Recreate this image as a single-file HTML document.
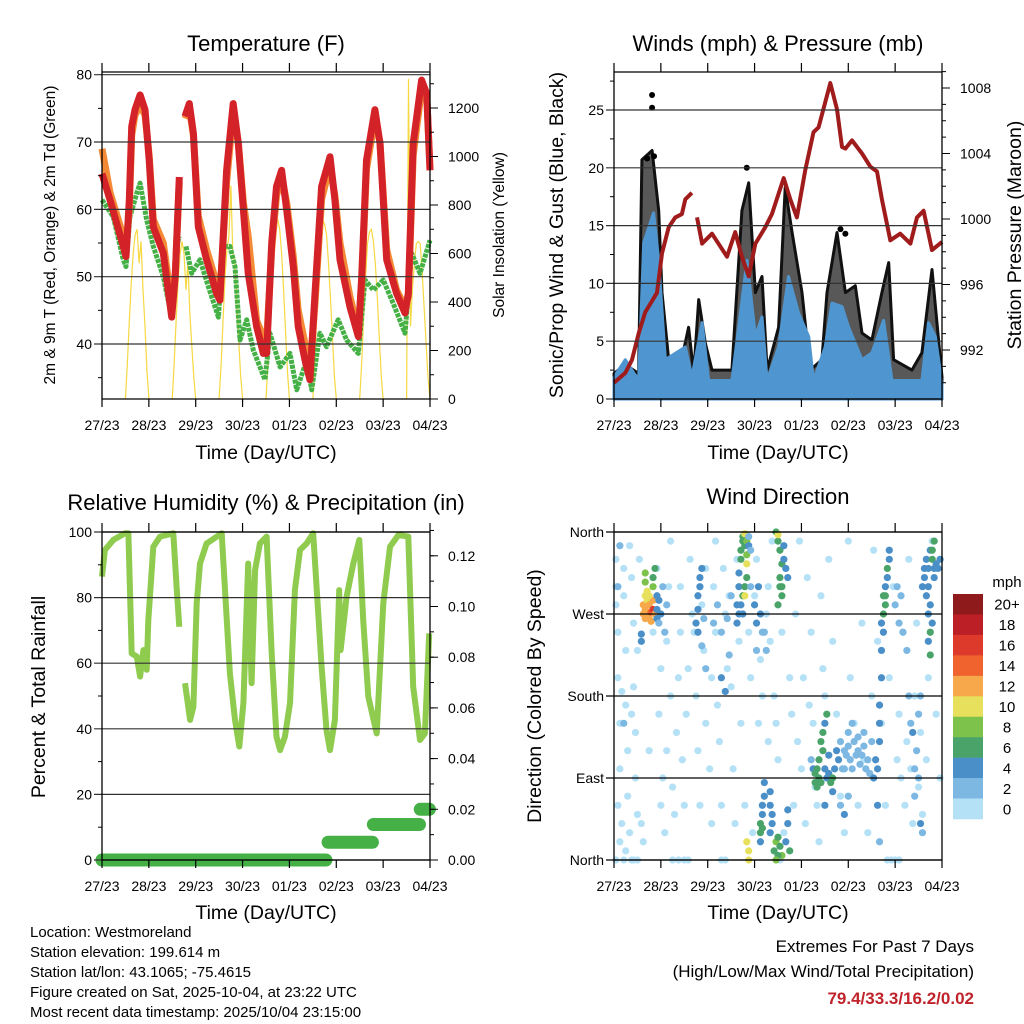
<!DOCTYPE html>
<html><head><meta charset="utf-8"><title>Station Meteogram</title>
<style>
html,body{margin:0;padding:0;background:#fff;}
svg{display:block;font-family:"Liberation Sans",Arial,sans-serif;}
</style></head>
<body>
<svg id="fig" width="1024" height="1024" viewBox="0 0 1024 1024" xmlns="http://www.w3.org/2000/svg">
<rect x="0" y="0" width="1024" height="1024" fill="#fff"/>
<text x="266" y="51" font-size="22" text-anchor="middle">Temperature (F)</text>
<text x="778" y="51" font-size="22" text-anchor="middle">Winds (mph) &amp; Pressure (mb)</text>
<text x="266" y="510" font-size="22" text-anchor="middle">Relative Humidity (%) &amp; Precipitation (in)</text>
<text x="778" y="504" font-size="22" text-anchor="middle">Wind Direction</text>
<text transform="translate(55,235) rotate(-90)" font-size="15.5" text-anchor="middle">2m &amp; 9m T (Red, Orange) &amp; 2m Td (Green)</text>
<text transform="translate(504,235) rotate(-90)" font-size="15.5" text-anchor="middle">Solar Insolation (Yellow)</text>
<text transform="translate(563,235) rotate(-90)" font-size="19.5" text-anchor="middle">Sonic/Prop Wind &amp; Gust (Blue, Black)</text>
<text transform="translate(1021,235) rotate(-90)" font-size="19.5" text-anchor="middle">Station Pressure (Maroon)</text>
<text transform="translate(45,697) rotate(-90)" font-size="19.5" text-anchor="middle">Percent &amp; Total Rainfall</text>
<text transform="translate(541,696) rotate(-90)" font-size="19.5" text-anchor="middle">Direction (Colored By Speed)</text>
<text x="266" y="459" font-size="19.5" text-anchor="middle">Time (Day/UTC)</text>
<text x="778" y="459" font-size="19.5" text-anchor="middle">Time (Day/UTC)</text>
<text x="266" y="919" font-size="19.5" text-anchor="middle">Time (Day/UTC)</text>
<text x="778" y="919" font-size="19.5" text-anchor="middle">Time (Day/UTC)</text>
<g font-size="15">
<text x="30" y="937">Location: Westmoreland</text>
<text x="30" y="957">Station elevation: 199.614 m</text>
<text x="30" y="977">Station lat/lon: 43.1065; -75.4615</text>
<text x="30" y="997">Figure created on Sat, 2025-10-04, at 23:22 UTC</text>
<text x="30" y="1017">Most recent data timestamp: 2025/10/04 23:15:00</text>
</g>
<text x="974" y="952" font-size="17" text-anchor="end">Extremes For Past 7 Days</text>
<text x="974" y="977" font-size="17" text-anchor="end">(High/Low/Max Wind/Total Precipitation)</text>
<text x="974" y="1004" font-size="17" font-weight="bold" fill="#c0232b" text-anchor="end">79.4/33.3/16.2/0.02</text>
<text x="1007" y="587" font-size="15" text-anchor="middle">mph</text>
</svg>
<script>
const dayLabels = ['27/23','28/23','29/23','30/23','01/23','02/23','03/23','04/23'];
const tempTicks = [40,50,60,70,80];
const solarTicks = [0,200,400,600,800,1000,1200];
const windTicks = [0,5,10,15,20,25];
const presTicks = [992,996,1000,1004,1008];
const rhTicks = [0,20,40,60,80,100];
const rainTicks = [0,0.02,0.04,0.06,0.08,0.10,0.12];
const rainTickLabels = ['0.00','0.02','0.04','0.06','0.08','0.10','0.12'];
const dirTicks = [0,90,180,270,360];
const dirLabels = ['North','East','South','West','North'];

const tempHours = [0,4.1,10.9,12.3,14,15.2,16.9,19.5,22,24.2,26.3,31.4,35.7,37.5,39.6,null,42.5,44.7,46.8,49.3,53.6,58.7,60.4,63.8,67.2,69.8,72.4,74.9,79.2,82.6,84.3,86.9,89.4,92,94.6,98,100.5,104,106.5,109.1,112.5,116.8,119.3,121.9,127,131.3,133,135.5,139.8,142.4,145.8,150.9,155.2,156.9,159.4,163.7,166.3,168];
const temp2m = [65.3,61.4,54.5,53,61.4,72.3,74.8,77,74.8,67.3,57.4,53.5,44,50,64.8,null,73.8,75.7,71.3,57.4,52.5,47.5,46.5,65.8,75.7,69.8,59.9,50.5,42.6,38.6,38.6,55,63.4,65.8,59.9,51.5,42.6,37.6,34.7,47.5,63.4,67.8,61.4,52.5,45.5,41.1,50,67.3,74.8,69.8,52.5,47.5,44.6,47.5,69.8,79.2,77.2,65.8];
const temp9m = [69,62.5,56,54,60,71,74,75.5,74,68,58.5,55,46,50,64,null,73.5,75,71,59,54,49,47,64,74.5,70,61,56,43.5,41,40.5,54,62,65,61,53,45,40,36,46,61.5,66.5,62,55,47,42,49,66,73.5,70,54,48,45.5,47,68,78,77,66];
const dewHours = [0,5.8,10.9,12.3,14.3,17.8,19.5,22.9,26.3,31.4,35.7,38.2,39.6,null,43,45.9,50.2,54.5,59.6,62.1,65.5,68.1,70.7,74.1,77.5,83.5,86,91.2,96.3,99.7,104.8,107.4,111.6,115,121,125.3,131.3,134.7,139,144.1,149.2,155.2,158.6,162.9,168];
const dew2m = [61.4,58.9,52.5,51.5,58.9,62.4,63.9,58.4,54.5,50,44,54.5,56,null,54.5,50.5,52.5,48.5,44,54.5,54.5,51.5,40.6,43.6,39.1,34.7,41.6,36.6,38.6,33.2,37.6,33.2,41.6,39.6,43.6,40.6,38.6,49.5,48,49.5,46,41.6,53.5,50.5,55.4];
const solarDayStart = [0,24,48,72,96,120,144];
const solarHourOfDay = [12,13,14,15,16,17,18,19,20,21,22,23,24];
const solarDay0 = [0,150,320,480,600,680,700,560,650,450,300,120,0];
const solarDay1 = [0,150,330,480,600,650,600,450,560,350,220,90,0];
const solarDay2 = [0,140,320,500,620,670,880,600,560,400,240,100,0];
const solarDay3 = [0,150,330,500,640,720,740,700,600,450,280,110,0];
const solarDay4 = [0,160,350,520,800,740,720,680,560,420,260,100,0];
const solarDay5 = [0,150,330,500,640,690,700,650,560,420,260,100,0];
const solarDay6 = [0,1320,300,450,560,640,650,640,520,380,230,90,0];

const gustHours = [0,5.8,12.6,14.3,19.5,22.9,24.6,28,33.1,38.2,40.8,43.4,46.8,50.2,60.4,65.5,69,72.4,75.8,78.4,84.3,87.7,91.2,96.3,100.5,106.5,109.1,114.2,118.5,123.6,127,132.1,137.2,140.7,143.2,152.6,157.7,162.9,168];
const gustSpeed = [2.2,3,2.2,20.7,21.5,16.3,9.2,3.4,2.2,6.2,2.2,8.6,4.8,2.5,2.5,16.3,18.7,9.2,10.6,2.5,6.2,18.3,14.4,9.2,2.5,3.4,9.2,14.4,9.2,9.8,5.7,5.1,9.2,11.8,3.4,2.5,4,11.2,1.9];
const gustPeakHours = [19.5,19.5,68,116,118.5,20.5,17];
const gustPeakSpeed = [26.3,25.2,20,14.7,14.3,21,20.8];
const windHours = [0,5.8,12.6,15.2,20.3,22.9,26.3,36.5,39.9,45.1,48.5,60.4,63.8,68.1,72.4,75.8,78.4,84.3,89.4,94.6,99.7,102.2,108.2,111.6,116.8,120.2,127,132.1,138.1,142.4,157.7,161.1,164.6,168];
const windSpeed = [1.9,3.4,1.6,13.5,16.1,12,3.4,4.5,1.9,6.6,1.6,1.6,6.2,12,5.4,7.1,1.6,4.5,10.6,7.4,5.4,1.6,4.5,8.3,8,6.2,3.4,4,6.8,1.6,1.6,6.6,5.4,1.3];
const presHours = [0,5.8,9.2,12.6,16,19.5,22,24.6,28,31.4,34.8,36.5,39.9,null,42.5,45.1,50.2,57.9,62.1,65.5,69,72.4,77.5,80.9,86.9,90.3,93.7,98,102.2,104.8,110.8,114.2,116.8,118.5,121.9,127,131.3,134.7,137.2,141.5,146.6,151.8,155.2,158.6,162.9,168];
const presMb = [990,990.6,991.4,993,994.3,995,995.5,997.9,999.5,1000.1,1000.3,1001.2,1001.6,null,1000.1,998.5,999.1,997.7,999.2,997.7,996.5,998.5,999.5,1000.3,1002.5,1001.2,1000.1,1003,1005.3,1005.6,1008.3,1006.7,1004.4,1004.3,1004.8,1004,1003.2,1002.9,1001.2,998.7,999.1,998.5,1000.1,1000.5,998.1,998.6];

const rhHours = [0,1.5,5.8,11.8,13.5,15.2,17.8,19.5,21.2,22.9,23.7,26.3,29.7,36.5,38.2,39.6,null,42.5,45.1,46.8,48.5,50.2,53.6,61.3,65.5,68.1,70.3,72.4,74.9,76.6,78.4,80.9,84.3,86.9,89.4,91.2,93.7,96.3,98.8,101.4,104.8,108.2,112.5,115,116.8,119.3,121.5,122.2,125.3,128.7,131.8,133.8,136.4,140.7,144.1,147.5,151.8,156.9,159.4,162.9,165.4,167.6];
const rhPct = [86.4,94.5,97.6,99.6,99.6,63,62,55.9,64,58,73,95.5,98.6,99.6,83.3,71.1,null,53.9,42.7,46.7,78.3,90.4,96.5,99.6,56.9,42.7,34.6,47.8,90.4,53.9,88.4,96.5,98.6,63,37.6,33.5,37.6,47.8,82.3,94.5,96.5,99.6,58.9,39.6,33.5,42.7,82.3,64,80.3,90.4,97.6,73.2,49.8,38.6,78.3,95.5,99.1,98.6,52.8,36.6,38.6,69.1];
const rainStartHours = [0,115.8,139,163];
const rainEndHours = [114.7,138.5,162.6,167.7];
const rainTotal = [0,0.007,0.014,0.02];

const speedBinLabels = ['0','2','4','6','8','10','12','14','16','18','20+'];
const speedBinColors = ['#b5e1f7','#7db8e3','#4a8fc8','#4aa46a','#7dc24b','#e7e05c','#f6a84a','#f0622e','#dd3a2c','#bd1f26','#8f1a1b'];
const windObs = [
[1,330,1],[1,300,1],[1,280,1],[2,250,1],[2,200,1],[3,150,1],[3,100,1],[2,60,1],[4,40,1],[5,320,1],[5,290,1],[6,230,1],[6,170,1],[7,120,1],[7,70,1],[8,30,1],[8,345,1],[9,310,1],[10,260,1],[10,190,1],[11,140,1],[11,90,1],[12,50,1],[12,230,1],[13,330,1],[4,185,1],[9,160,1],[3,20,1],[6,10,1],[10,0,1],[1,0,1],[5,0,1],[9,0,1],[12,0,1],[2,300,3],[3,345,3],[5,150,3],
[14,40,1],[15,20,1],[18,120,1],[20,250,1],[22,320,1],[24,210,1],[23,160,1],[25,90,1],[24,60,1],[26,30,1],[27,120,1],[27,240,1],[28,300,1],[29,350,1],[29,180,1],[30,80,1],[31,50,1],[30,0,1],[33,0,1],[32,140,1],[33,200,1],[34,300,1],[34,250,1],[35,110,1],[36,60,1],[37,160,1],[38,210,1],[39,330,1],[40,270,1],[36,0,1],[38,0,1],[41,250,1],[42,180,1],[43,120,1],[44,60,1],[45,280,1],[46,230,1],[47,320,1],[47,150,1],[49,100,1],[50,200,1],[50,40,1],[51,300,1],[52,350,1],[52,250,1],[53,170,1],[54,130,1],[55,60,1],[55,0,1],[57,0,1],[56,320,1],[57,270,1],[58,210,1],[59,290,1],[60,190,1],[61,100,1],[62,40,1],[63,330,1],[64,240,1],[65,150,1],[67,60,1],[69,250,1],[70,200,1],[71,30,1],[72,290,1],[73,330,1],[74,150,1],[75,220,1],[76,180,1],[78,270,1],[79,130,1],[79,300,1],[80,240,1],[81,350,1],[82,180,1],[83,150,1],[84,110,1],[85,0,1],[86,250,1],[87,30,1],[88,320,1],[90,200,1],[91,160,1],[92,60,1],[93,270,1],[94,130,1],[95,350,1],[96,100,1],[97,200,1],[98,40,1],[99,310,1],[100,170,1],[101,250,1],[102,150,1],[103,80,1],[104,60,1],[105,20,1],[106,290,1],[107,210,1],[108,180,1],[110,330,1],[112,240,1],[114,160,1],[116,70,1],[118,30,1],[120,350,1],[121,200,1],[123,150,1],[125,60,1],[127,260,1],[128,110,1],[130,30,1],[132,180,1],[133,340,1],[135,240,1],[137,150,1],[139,60,1],[140,0,1],[142,0,1],[144,0,1],[146,0,1],[141,200,1],[143,300,1],[145,110,1],[146,160,1],[147,90,1],[148,250,1],[149,60,1],[150,130,1],[151,330,1],[152,100,1],[153,40,1],[154,180,1],[155,260,1],[156,80,1],[157,140,1],[158,50,1],[160,110,1],[161,200,1],[163,350,1],[165,160,1],[167,90,1],
[15,270,12],[15,280,12],[16,265,12],[16,275,13],[17,270,12],[17,285,11],[18,265,12],[18,280,12],[19,272,15],[19,262,13],[20,275,16],[20,285,12],[21,270,13],[16,290,10],[17,295,10],[18,290,10],[16,305,8],[16,315,8],[20,300,8],[20,310,7],[21,320,7],[14,240,5],[14,248,5],[22,265,5],[22,275,5],[23,260,3],[23,285,4],[24,270,4],[22,290,4],[25,300,3],[26,250,3],[27,280,3],
[42,260,5],[43,275,5],[43,290,5],[44,300,5],[44,310,4],[45,320,4],[43,250,4],[46,265,3],[45,235,3],[47,210,3],[51,260,3],[53,280,3],[55,250,3],[58,265,3],[60,290,3],[59,225,3],[55,200,4],[57,185,4],
[63,260,5],[63,280,5],[64,300,5],[64,315,5],[65,330,6],[65,340,6],[66,350,7],[66,355,7],[67,345,7],[67,358,10],[68,350,8],[68,335,9],[68,325,10],[67,300,6],[66,290,6],[65,280,5],[66,270,5],[64,270,5],[67,290,10],[68,310,6],[69,345,4],[69,355,3],[70,340,3],[70,300,3],
[72,280,5],[73,260,5],[74,300,4],[75,270,4],[76,250,3],[73,230,3],[77,250,3],[78,230,3],
[75,30,6],[75,40,6],[76,50,5],[76,60,5],[77,70,5],[77,85,4],[75,20,5],[76,35,6],[80,60,5],[80,75,5],[81,50,4],[81,40,4],[80,30,5],
[82,10,7],[83,20,8],[84,25,6],[85,15,7],[86,5,8],[84,5,7],[83,0,8],[68,20,10],[69,10,10],[69,0,10],
[83,360,6],[84,350,6],[85,340,6],[86,325,7],[85,310,6],[86,300,6],[87,330,5],[87,345,5],[88,320,4],[89,310,4],[84,357,10],[85,300,7],[84,280,6],[86,290,6],[88,20,4],[89,40,4],[89,55,4],[90,10,6],
[101,110,3],[102,100,5],[103,95,7],[103,85,6],[104,80,7],[104,100,6],[105,90,6],[105,110,6],[106,85,7],[106,130,6],[107,140,7],[107,120,6],[108,150,5],[108,100,5],[109,90,4],[110,95,4],[111,85,6],[112,90,6],[113,100,5],[109,160,6],[108,60,5],[110,115,5],[112,75,5],[114,120,4],[115,110,4],
[116,130,3],[117,100,3],[118,120,3],[119,115,3],[120,125,3],[121,110,3],[122,100,3],[123,130,3],[124,115,3],[125,120,3],[126,105,3],[127,115,3],[128,125,3],[129,100,3],[130,110,3],[131,95,3],[132,130,3],[133,90,4],[134,110,4],[118,100,3],[120,140,3],[122,150,3],[125,135,3],[128,140,3],[116,60,3],[118,50,4],[120,70,3],
[135,100,5],[136,130,5],[136,170,4],[137,200,4],[137,230,5],[138,250,5],[138,270,6],[139,290,6],[139,300,5],[140,310,5],[140,320,6],[141,330,4],[141,340,5],[139,280,6],[138,290,7],[137,260,4],[136,150,5],[135,60,4],[136,20,3],
[144,280,3],[145,300,3],[146,260,2],[147,290,3],[148,250,3],[150,230,3],[151,180,3],[152,150,3],[153,140,4],[154,100,3],[155,120,3],[156,90,3],[154,70,3],[157,40,4],[158,30,3],[156,160,3],[157,180,3],
[158,300,5],[159,310,5],[159,320,5],[160,290,4],[160,330,5],[161,320,5],[161,300,4],[162,280,5],[162,340,4],[163,330,6],[164,320,5],[164,310,5],[165,325,5],[166,320,4],[167,330,5],[163,260,5],[162,250,6],[161,240,4],[162,225,6],[163,340,6],[164,350,7],[161,270,4]
];

const NS = 'http://www.w3.org/2000/svg';
const svg = document.getElementById('fig');
function mk(tag, attrs, parent){
  const el = document.createElementNS(NS, tag);
  for (const k in attrs) el.setAttribute(k, attrs[k]);
  (parent || svg).appendChild(el);
  return el;
}
function panel(name, x0, top, bottom){
  const g = mk('g', {});
  
  
  return {g:g, x0:x0, w:328, top:top, bottom:bottom, sx:function(h){return x0 + h/168*328;}};
}
function lin(d0, d1, p0, p1){ return function(v){ return p0 + (v-d0)/(d1-d0)*(p1-p0); }; }
function pathD(xs, ys, sx, sy){
  let d = '', pen = false;
  for (let i=0;i<xs.length;i++){
    if (xs[i]===null || ys[i]===null){ pen=false; continue; }
    d += (pen?'L':'M') + sx(xs[i]).toFixed(1) + ' ' + sy(ys[i]).toFixed(1) + ' ';
    pen = true;
  }
  return d;
}
function frame(p, leftTicks, leftLbl, sy, minorL, rightTicks, rightLbl, sy2, minorR, gridColor){
  const g = p.g;
  for (let i=0;i<leftTicks.length;i++){
    const y = sy(leftTicks[i]);
    const gl = mk('line', {x1:p.x0-8, x2:p.x0+p.w, y1:y, y2:y, stroke:gridColor||'#000', 'stroke-width':1.2}, g);
    
    
    const t = mk('text', {x:p.x0-10, y:y+5, 'font-size':14, 'text-anchor':'end'}, g);
    t.textContent = leftLbl[i];
    
    
  }
  for (const v of minorL){
    const y = sy(v);
    const m = mk('line', {x1:p.x0-4, x2:p.x0, y1:y, y2:y, stroke:'#000', 'stroke-width':1}, g);
    
    
  }
  if (rightTicks){
    for (let i=0;i<rightTicks.length;i++){
      const y = sy2(rightTicks[i]);
      const tk = mk('line', {x1:p.x0+p.w, x2:p.x0+p.w+8, y1:y, y2:y, stroke:'#000', 'stroke-width':1}, g);
      
      
      const t = mk('text', {x:p.x0+p.w+18, y:y+5, 'font-size':14}, g);
      t.textContent = rightLbl[i];
      
      
    }
    for (const v of minorR){
      const y = sy2(v);
      const m = mk('line', {x1:p.x0+p.w, x2:p.x0+p.w+4, y1:y, y2:y, stroke:'#000', 'stroke-width':1}, g);
      
      
    }
  }
  for (let i=0;i<dayLabels.length;i++){
    const x = p.sx(i*24);
    const t1 = mk('line', {x1:x, x2:x, y1:p.bottom, y2:p.bottom+8, stroke:'#000', 'stroke-width':1.2}, g);
    
    
    const t2 = mk('line', {x1:x, x2:x, y1:p.top-9, y2:p.top, stroke:'#000', 'stroke-width':1.2}, g);
    
    
    const t = mk('text', {x:x, y:p.bottom+31, 'font-size':14, 'text-anchor':'middle'}, g);
    t.textContent = dayLabels[i];
    
    
  }
  const r = mk('path', {d:'M'+(p.x0+p.w)+' '+p.top+' H'+p.x0+' V'+p.bottom+' H'+(p.x0+p.w)+' V'+p.top, fill:'none', stroke:'#000', 'stroke-width':1.3}, g);
  
  
}
function range(a,b,s){ const r=[]; for(let v=a; v<=b+1e-9; v+=s) r.push(v); return r; }

/* ---------- Temperature panel ---------- */
const pT = panel('temperature-panel', 102, 72, 399);
const yT = lin(80, 40, 74.7, 344);
const yS = lin(0, 1200, 399, 108);
for (let d=0; d<solarDayStart.length; d++){
  const vals = [solarDay0,solarDay1,solarDay2,solarDay3,solarDay4,solarDay5,solarDay6][d];
  const hrs = solarHourOfDay.map(h=>h+solarDayStart[d]);
  const s = mk('path', {d:pathD(hrs, vals, pT.sx, yS), fill:'none', stroke:'#f5d842', 'stroke-width':1.2}, pT.g);
  
  
}
const lDew = mk('path', {d:pathD(dewHours, dew2m, pT.sx, yT), fill:'none', stroke:'#44b045', 'stroke-width':5, 'stroke-linejoin':'round', 'stroke-dasharray':'4 1'}, pT.g);


const l9 = mk('path', {d:pathD(tempHours, temp9m, pT.sx, yT), fill:'none', stroke:'#f48a35', 'stroke-width':7, 'stroke-linejoin':'round'}, pT.g);


const l2 = mk('path', {d:pathD(tempHours, temp2m, pT.sx, yT), fill:'none', stroke:'#d42229', 'stroke-width':7, 'stroke-linejoin':'round'}, pT.g);


frame(pT, tempTicks, tempTicks.map(String), yT, range(35,75,10), solarTicks, solarTicks.map(String), yS, range(100,1300,100), '#333');

/* ---------- Winds panel ---------- */
const pW = panel('winds-panel', 614, 72, 399);
const yW = lin(0, 25, 399, 110);
const yP = lin(992, 1008, 350, 88);
function areaD(xs, ys, sx, sy){
  let d = 'M'+sx(xs[0]).toFixed(1)+' '+sy(0).toFixed(1)+' ';
  for (let i=0;i<xs.length;i++) d += 'L'+sx(xs[i]).toFixed(1)+' '+sy(ys[i]).toFixed(1)+' ';
  d += 'L'+sx(xs[xs.length-1]).toFixed(1)+' '+sy(0).toFixed(1)+' Z';
  return d;
}
const aG = mk('path', {d:areaD(gustHours, gustSpeed, pW.sx, yW), fill:'#111', 'fill-opacity':0.7, stroke:'#111', 'stroke-width':3, 'stroke-linejoin':'round'}, pW.g);


for (let i=0;i<gustPeakHours.length;i++){
  const c = mk('circle', {cx:pW.sx(gustPeakHours[i]), cy:yW(gustPeakSpeed[i]), r:3, fill:'#000'}, pW.g);
  
  
}
const aB = mk('path', {d:areaD(windHours, windSpeed, pW.sx, yW), fill:'#4f96d0', stroke:'#4f96d0', 'stroke-width':3, 'stroke-linejoin':'round'}, pW.g);


const lP = mk('path', {d:pathD(presHours, presMb, pW.sx, yP), fill:'none', stroke:'#a01c1c', 'stroke-width':4, 'stroke-linejoin':'round'}, pW.g);


frame(pW, windTicks, windTicks.map(String), yW, range(2.5,27.5,5), presTicks, presTicks.map(String), yP, range(990,1009,1), '#333');

/* ---------- Humidity panel ---------- */
const pR = panel('humidity-panel', 102, 532, 860);
const yR = lin(0, 100, 860, 532);
const yRain = lin(0, 0.02, 860, 809.3);
const lRH = mk('path', {d:pathD(rhHours, rhPct, pR.sx, yR), fill:'none', stroke:'#8fcb4e', 'stroke-width':6, 'stroke-linejoin':'round'}, pR.g);


for (let i=0;i<rainTotal.length;i++){
  const b = mk('line', {x1:pR.sx(rainStartHours[i]), x2:pR.sx(rainEndHours[i]), y1:yRain(rainTotal[i]), y2:yRain(rainTotal[i]), stroke:'#44b045', 'stroke-width':13, 'stroke-linecap':'round'}, pR.g);
  
  
}
frame(pR, rhTicks, rhTicks.map(String), yR, range(10,90,20), rainTicks, rainTickLabels, yRain, range(0.01,0.13,0.01), '#333');

/* ---------- Wind direction panel ---------- */
const pD = panel('wind-direction-panel', 614, 532, 860);
const yD = lin(0, 360, 860, 532);
for (const o of windObs){
  const bin = Math.min(10, Math.floor(o[2]/2));
  const c = mk('circle', {cx:pD.sx(o[0]), cy:yD(o[1]), r:3.6, fill:speedBinColors[bin]}, pD.g);
  
  
}
frame(pD, dirTicks, dirLabels, yD, [], null, null, null, [], '#000');

/* ---------- Colorbar ---------- */
const cb = mk('g', {});


const cbTop = 594, cbH = 225/11;
for (let i=0;i<speedBinColors.length;i++){
  const k = speedBinColors.length-1-i;
  const r = mk('rect', {x:953, y:cbTop+i*cbH, width:30, height:cbH+0.3, fill:speedBinColors[k]}, cb);
  
  
  const t = mk('text', {x:1007, y:cbTop+i*cbH+cbH/2+5.5, 'font-size':15, 'text-anchor':'middle'}, cb);
  t.textContent = speedBinLabels[k];
  
  
}
</script>
</body></html>
